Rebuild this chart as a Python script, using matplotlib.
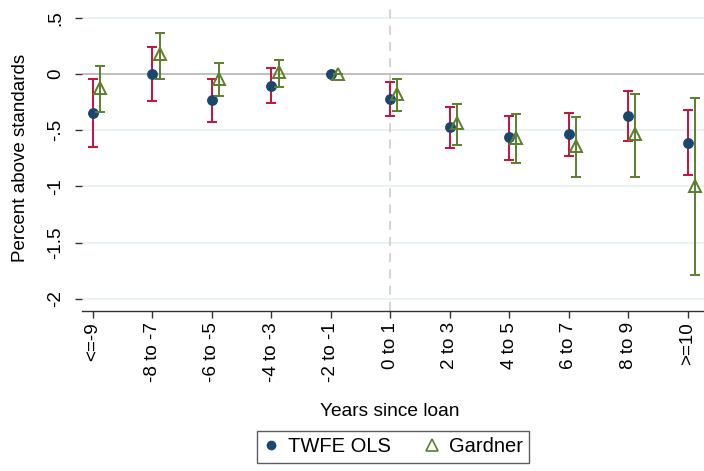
import numpy as np
import matplotlib
matplotlib.use('Agg')
from matplotlib import pyplot as plt
from matplotlib.lines import Line2D

# event-time bins
labels = ['<=-9', '-8 to -7', '-6 to -5', '-4 to -3', '-2 to -1', '0 to 1',
          '2 to 3', '4 to 5', '6 to 7', '8 to 9', '>=10']

# TWFE OLS estimates and 95% CI
ols_est = [-0.344, 0.0, -0.228, -0.107, 0.0, -0.219, -0.469, -0.560, -0.534, -0.377, -0.611]
ols_lo = [-0.652, -0.243, -0.424, -0.261, 0.0, -0.374, -0.655, -0.762, -0.726, -0.599, -0.902]
ols_hi = [-0.044, 0.240, -0.044, 0.050, 0.0, -0.071, -0.294, -0.371, -0.347, -0.151, -0.317]

# Gardner (two-stage DiD) estimates and 95% CI
gard_est = [-0.125, 0.175, -0.041, 0.021, 0.0, -0.178, -0.439, -0.566, -0.638, -0.537, -0.993]
gard_lo = [-0.335, -0.044, -0.196, -0.118, 0.0, -0.326, -0.635, -0.792, -0.913, -0.916, -1.788]
gard_hi = [0.068, 0.368, 0.095, 0.122, 0.0, -0.047, -0.264, -0.356, -0.380, -0.178, -0.210]

yticks = [0.5, 0, -0.5, -1, -1.5, -2]
yticklabels = ['.5', '0', '-.5', '-1', '-1.5', '-2']

navy = '#1a476f'
red = '#c8103c'
green = '#5b7f2b'

plt.rcParams['font.family'] = ['Liberation Sans', 'DejaVu Sans']

fig = plt.figure(figsize=(7.04, 4.71), dpi=100)
ax = fig.add_axes([82 / 704., 1 - 311 / 471., 622 / 704., 306 / 471.])

x = np.arange(len(labels))
off = 0.12

ols_est = np.array(ols_est)
gard_est = np.array(gard_est)
ols_err = [ols_est - np.array(ols_lo), np.array(ols_hi) - ols_est]
gard_err = [gard_est - np.array(gard_lo), np.array(gard_hi) - gard_est]

for yv in yticks:
  if yv != 0:
    ax.axhline(yv, color='#e8f0f2', lw=1.2, zorder=0)
ax.axhline(0, color='#b4b4b4', lw=1.2, zorder=1)
ax.axvline(5, color='#d0d0d0', lw=1.3, ls=(0, (5, 4)), zorder=1)

ax.errorbar(x, ols_est, yerr=ols_err, fmt='none', ecolor=red, elinewidth=1.4,
            capsize=3.5, capthick=1.4, zorder=2)
ax.plot(x, ols_est, 'o', color=navy, ms=6.8, zorder=3)
ax.errorbar(x + off, gard_est, yerr=gard_err, fmt='none', ecolor=green, elinewidth=1.4,
            capsize=3.8, capthick=1.4, zorder=4)
ax.plot(x + off, gard_est, '^', mfc='none', mec=green, mew=1.4, ms=9, zorder=5)

ax.set_xlim((82 - 93) / 59.46, (704 - 93) / 59.46)
ax.set_ylim((74 - 311) / 112.4, (74 - 5) / 112.4)

ax.set_xticks(x)
ax.set_xticklabels(labels, rotation=90, va='top', ha='center', fontsize=13.6)
ax.set_yticks(yticks)
ax.set_yticklabels(yticklabels, rotation=90, va='center', fontsize=13.6)
ax.tick_params(axis='x', length=5, width=1, color='#333333', pad=3)
ax.tick_params(axis='y', length=5, width=1, color='#333333', pad=8)

for s in ['top', 'right', 'left']:
  ax.spines[s].set_visible(False)
ax.spines['bottom'].set_color('#333333')
ax.spines['bottom'].set_linewidth(1)

ax.set_ylabel('Percent above standards', fontsize=13.5, labelpad=13)
fig.text(390 / 704., 1 - 412 / 471., 'Years since loan', ha='center', va='center', fontsize=13.8)

handles = [Line2D([], [], ls='none', marker='o', color=navy, ms=6),
           Line2D([], [], ls='none', marker='^', mfc='none', mec=green, mew=1.2, ms=8)]
leg = fig.legend(handles, ['TWFE OLS', 'Gardner'], loc='center', ncol=2,
                 bbox_to_anchor=(393 / 704., 1 - 447 / 471.), fontsize=14.5,
                 frameon=True, fancybox=False, handlelength=0.8, handletextpad=0.45,
                 columnspacing=1.6, borderpad=0.3)
leg.get_frame().set_edgecolor('#333333')
leg.get_frame().set_linewidth(1)

fig.savefig('out.png', dpi=100)
